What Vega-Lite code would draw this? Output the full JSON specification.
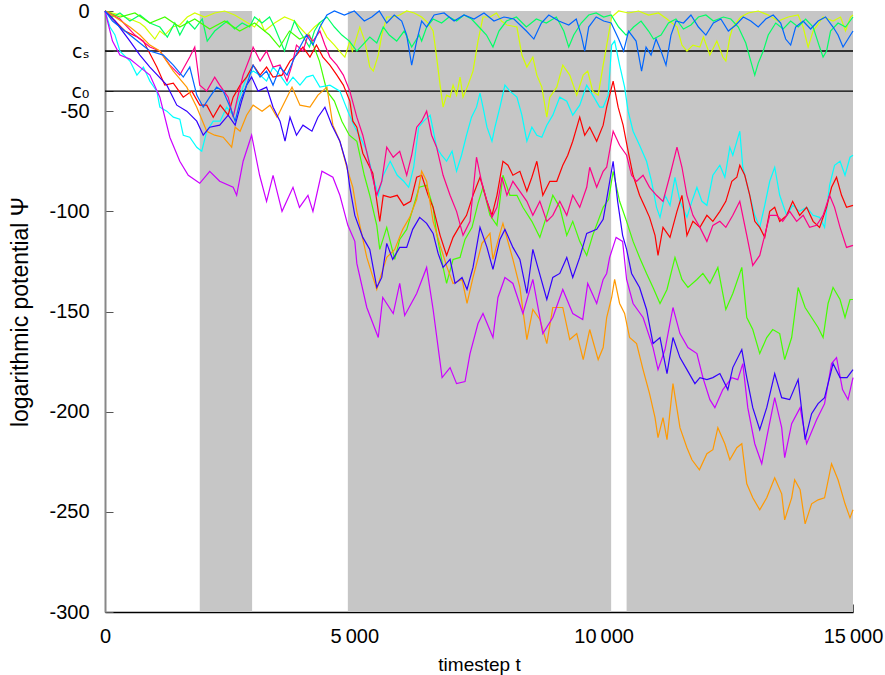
{
  "$schema": "https://vega.github.io/schema/vega-lite/v6.json",
  "width": 748,
  "height": 601,
  "autosize": {"type": "none"},
  "padding": {"left": 105, "top": 11, "right": 32, "bottom": 63},
  "background": "white",
  "view": {"stroke": null},
  "config": {
    "font": "Liberation Sans",
    "axis": {"labelFont": "Liberation Sans", "labelFontSize": 20, "labelColor": "#000", "titleFont": "Liberation Sans", "titleFontWeight": "normal", "titleColor": "#000", "grid": false, "labelOverlap": false}
  },
  "layer": [
    {
      "data": {"values": [
        {"from": 1900, "to": 2950},
        {"from": 4870, "to": 10150},
        {"from": 10460, "to": 15000}
      ]},
      "mark": {"type": "rect", "color": "#c6c6c6"},
      "encoding": {
        "x": {"field": "from", "type": "quantitative", "scale": {"domain": [0, 15000], "nice": false}},
        "x2": {"field": "to"},
        "y": {"datum": 0, "type": "quantitative", "scale": {"domain": [-300, 0], "nice": false}},
        "y2": {"datum": -300}
      }
    },
    {
      "data": {"values": [{"level": -20}, {"level": -40}]},
      "mark": {"type": "rule", "color": "#000", "strokeWidth": 1.4},
      "encoding": {
        "y": {"field": "level", "type": "quantitative"}
      }
    },
    {
      "data": {"values": [
        {"s":"yellow","t":0,"v":0},{"s":"yellow","t":300,"v":-2},{"s":"yellow","t":500,"v":-4},{"s":"yellow","t":700,"v":-6},{"s":"yellow","t":800,"v":-8},{"s":"yellow","t":900,"v":-11},{"s":"yellow","t":1000,"v":-14},{"s":"yellow","t":1100,"v":-10},{"s":"yellow","t":1200,"v":-12},{"s":"yellow","t":1350,"v":-8},{"s":"yellow","t":1500,"v":-7},{"s":"yellow","t":1650,"v":-3},{"s":"yellow","t":1800,"v":-1},{"s":"yellow","t":2000,"v":-3},{"s":"yellow","t":2200,"v":-1},{"s":"yellow","t":2400,"v":0},{"s":"yellow","t":2600,"v":-2},{"s":"yellow","t":2800,"v":-5},{"s":"yellow","t":3000,"v":-8},{"s":"yellow","t":3100,"v":-4},{"s":"yellow","t":3200,"v":-10},{"s":"yellow","t":3400,"v":-6},{"s":"yellow","t":3600,"v":-3},{"s":"yellow","t":3800,"v":-5},{"s":"yellow","t":3900,"v":-8},{"s":"yellow","t":4050,"v":-12},{"s":"yellow","t":4200,"v":-8},{"s":"yellow","t":4300,"v":-6},{"s":"yellow","t":4450,"v":-13},{"s":"yellow","t":4600,"v":-17},{"s":"yellow","t":4700,"v":-20},{"s":"yellow","t":4810,"v":-23},{"s":"yellow","t":4910,"v":-15},{"s":"yellow","t":4960,"v":-20},{"s":"yellow","t":5110,"v":-8},{"s":"yellow","t":5210,"v":-15},{"s":"yellow","t":5310,"v":-28},{"s":"yellow","t":5380,"v":-30},{"s":"yellow","t":5480,"v":-22},{"s":"yellow","t":5550,"v":-12},{"s":"yellow","t":5650,"v":-3},{"s":"yellow","t":5780,"v":-3},{"s":"yellow","t":5910,"v":-2},{"s":"yellow","t":6050,"v":0},{"s":"yellow","t":6200,"v":-1},{"s":"yellow","t":6350,"v":-3},{"s":"yellow","t":6480,"v":-6},{"s":"yellow","t":6580,"v":-10},{"s":"yellow","t":6650,"v":-23},{"s":"yellow","t":6720,"v":-37},{"s":"yellow","t":6780,"v":-48},{"s":"yellow","t":6850,"v":-42},{"s":"yellow","t":6920,"v":-43},{"s":"yellow","t":6980,"v":-37},{"s":"yellow","t":7050,"v":-42},{"s":"yellow","t":7120,"v":-33},{"s":"yellow","t":7180,"v":-43},{"s":"yellow","t":7280,"v":-37},{"s":"yellow","t":7380,"v":-30},{"s":"yellow","t":7480,"v":-15},{"s":"yellow","t":7580,"v":-3},{"s":"yellow","t":7720,"v":-3},{"s":"yellow","t":7850,"v":-1},{"s":"yellow","t":7950,"v":-5},{"s":"yellow","t":8060,"v":-7},{"s":"yellow","t":8260,"v":-8},{"s":"yellow","t":8360,"v":-22},{"s":"yellow","t":8460,"v":-28},{"s":"yellow","t":8580,"v":-23},{"s":"yellow","t":8660,"v":-32},{"s":"yellow","t":8760,"v":-38},{"s":"yellow","t":8860,"v":-53},{"s":"yellow","t":8920,"v":-43},{"s":"yellow","t":9060,"v":-38},{"s":"yellow","t":9180,"v":-27},{"s":"yellow","t":9320,"v":-32},{"s":"yellow","t":9460,"v":-42},{"s":"yellow","t":9590,"v":-32},{"s":"yellow","t":9680,"v":-30},{"s":"yellow","t":9780,"v":-40},{"s":"yellow","t":9890,"v":-42},{"s":"yellow","t":9990,"v":-27},{"s":"yellow","t":10090,"v":-13},{"s":"yellow","t":10160,"v":-3},{"s":"yellow","t":10300,"v":0},{"s":"yellow","t":10500,"v":-1},{"s":"yellow","t":10700,"v":0},{"s":"yellow","t":10900,"v":-2},{"s":"yellow","t":11100,"v":-1},{"s":"yellow","t":11270,"v":-4},{"s":"yellow","t":11470,"v":-8},{"s":"yellow","t":11570,"v":-17},{"s":"yellow","t":11670,"v":-20},{"s":"yellow","t":11790,"v":-17},{"s":"yellow","t":11930,"v":-18},{"s":"yellow","t":12000,"v":-13},{"s":"yellow","t":12130,"v":-22},{"s":"yellow","t":12270,"v":-15},{"s":"yellow","t":12390,"v":-23},{"s":"yellow","t":12450,"v":-25},{"s":"yellow","t":12530,"v":-13},{"s":"yellow","t":12590,"v":-8},{"s":"yellow","t":12750,"v":-3},{"s":"yellow","t":12900,"v":-1},{"s":"yellow","t":13100,"v":0},{"s":"yellow","t":13300,"v":-2},{"s":"yellow","t":13500,"v":-5},{"s":"yellow","t":13700,"v":-3},{"s":"yellow","t":13900,"v":-2},{"s":"yellow","t":14000,"v":-8},{"s":"yellow","t":14100,"v":-18},{"s":"yellow","t":14200,"v":-10},{"s":"yellow","t":14400,"v":-3},{"s":"yellow","t":14600,"v":-5},{"s":"yellow","t":14750,"v":-3},{"s":"yellow","t":14850,"v":-10},{"s":"yellow","t":14950,"v":-3},{"s":"yellow","t":15000,"v":-2},

        {"s":"spring","t":0,"v":0},{"s":"spring","t":150,"v":-3},{"s":"spring","t":300,"v":-1},{"s":"spring","t":500,"v":-5},{"s":"spring","t":700,"v":-2},{"s":"spring","t":900,"v":-6},{"s":"spring","t":1100,"v":-8},{"s":"spring","t":1250,"v":-13},{"s":"spring","t":1400,"v":-6},{"s":"spring","t":1500,"v":-12},{"s":"spring","t":1650,"v":-5},{"s":"spring","t":1800,"v":-9},{"s":"spring","t":1950,"v":-4},{"s":"spring","t":2050,"v":-15},{"s":"spring","t":2200,"v":-10},{"s":"spring","t":2350,"v":-7},{"s":"spring","t":2450,"v":-5},{"s":"spring","t":2600,"v":-9},{"s":"spring","t":2750,"v":-6},{"s":"spring","t":2900,"v":-8},{"s":"spring","t":3000,"v":-3},{"s":"spring","t":3150,"v":-6},{"s":"spring","t":3300,"v":-3},{"s":"spring","t":3400,"v":-8},{"s":"spring","t":3500,"v":-14},{"s":"spring","t":3600,"v":-20},{"s":"spring","t":3700,"v":-12},{"s":"spring","t":3800,"v":-5},{"s":"spring","t":3900,"v":-10},{"s":"spring","t":4000,"v":-14},{"s":"spring","t":4100,"v":-18},{"s":"spring","t":4200,"v":-10},{"s":"spring","t":4300,"v":-6},{"s":"spring","t":4450,"v":-3},{"s":"spring","t":4600,"v":-8},{"s":"spring","t":4750,"v":-12},{"s":"spring","t":4900,"v":-15},{"s":"spring","t":5050,"v":-20},{"s":"spring","t":5200,"v":-16},{"s":"spring","t":5310,"v":-13},{"s":"spring","t":5450,"v":-16},{"s":"spring","t":5580,"v":-8},{"s":"spring","t":5700,"v":-12},{"s":"spring","t":5850,"v":-15},{"s":"spring","t":6000,"v":-10},{"s":"spring","t":6150,"v":-18},{"s":"spring","t":6300,"v":-12},{"s":"spring","t":6350,"v":-15},{"s":"spring","t":6450,"v":-8},{"s":"spring","t":6580,"v":-4},{"s":"spring","t":6750,"v":-6},{"s":"spring","t":6900,"v":-3},{"s":"spring","t":7050,"v":-5},{"s":"spring","t":7200,"v":-2},{"s":"spring","t":7350,"v":-4},{"s":"spring","t":7500,"v":-8},{"s":"spring","t":7650,"v":-12},{"s":"spring","t":7780,"v":-18},{"s":"spring","t":7900,"v":-10},{"s":"spring","t":8050,"v":-5},{"s":"spring","t":8250,"v":-3},{"s":"spring","t":8450,"v":-8},{"s":"spring","t":8650,"v":-4},{"s":"spring","t":8850,"v":-6},{"s":"spring","t":9050,"v":-3},{"s":"spring","t":9200,"v":-10},{"s":"spring","t":9300,"v":-18},{"s":"spring","t":9400,"v":-12},{"s":"spring","t":9550,"v":-6},{"s":"spring","t":9700,"v":-2},{"s":"spring","t":9850,"v":-1},{"s":"spring","t":10000,"v":-3},{"s":"spring","t":10150,"v":-2},{"s":"spring","t":10300,"v":-8},{"s":"spring","t":10450,"v":-12},{"s":"spring","t":10600,"v":-8},{"s":"spring","t":10750,"v":-5},{"s":"spring","t":10900,"v":-10},{"s":"spring","t":11000,"v":-14},{"s":"spring","t":11150,"v":-12},{"s":"spring","t":11300,"v":-6},{"s":"spring","t":11450,"v":-4},{"s":"spring","t":11600,"v":-9},{"s":"spring","t":11750,"v":-7},{"s":"spring","t":11900,"v":-3},{"s":"spring","t":12050,"v":-2},{"s":"spring","t":12200,"v":-5},{"s":"spring","t":12400,"v":-3},{"s":"spring","t":12550,"v":-4},{"s":"spring","t":12700,"v":-8},{"s":"spring","t":12850,"v":-16},{"s":"spring","t":12950,"v":-25},{"s":"spring","t":13030,"v":-32},{"s":"spring","t":13100,"v":-26},{"s":"spring","t":13200,"v":-20},{"s":"spring","t":13300,"v":-12},{"s":"spring","t":13450,"v":-6},{"s":"spring","t":13600,"v":-9},{"s":"spring","t":13750,"v":-5},{"s":"spring","t":13900,"v":-8},{"s":"spring","t":14050,"v":-4},{"s":"spring","t":14200,"v":-8},{"s":"spring","t":14330,"v":-18},{"s":"spring","t":14400,"v":-23},{"s":"spring","t":14470,"v":-20},{"s":"spring","t":14550,"v":-10},{"s":"spring","t":14700,"v":-6},{"s":"spring","t":14850,"v":-8},{"s":"spring","t":15000,"v":-3},

        {"s":"lime","t":0,"v":0},{"s":"lime","t":300,"v":-3},{"s":"lime","t":600,"v":-1},{"s":"lime","t":900,"v":-6},{"s":"lime","t":1200,"v":-3},{"s":"lime","t":1500,"v":-8},{"s":"lime","t":1800,"v":-4},{"s":"lime","t":2100,"v":-9},{"s":"lime","t":2400,"v":-5},{"s":"lime","t":2700,"v":-10},{"s":"lime","t":3000,"v":-6},{"s":"lime","t":3300,"v":-12},{"s":"lime","t":3500,"v":-18},{"s":"lime","t":3700,"v":-10},{"s":"lime","t":3900,"v":-14},{"s":"lime","t":4100,"v":-12},{"s":"lime","t":4300,"v":-25},{"s":"lime","t":4450,"v":-40},{"s":"lime","t":4600,"v":-45},{"s":"lime","t":4750,"v":-55},{"s":"lime","t":4900,"v":-62},{"s":"lime","t":5050,"v":-65},{"s":"lime","t":5200,"v":-82},{"s":"lime","t":5310,"v":-92},{"s":"lime","t":5450,"v":-107},{"s":"lime","t":5510,"v":-119},{"s":"lime","t":5650,"v":-108},{"s":"lime","t":5810,"v":-124},{"s":"lime","t":5910,"v":-114},{"s":"lime","t":6050,"v":-109},{"s":"lime","t":6170,"v":-99},{"s":"lime","t":6300,"v":-88},{"s":"lime","t":6450,"v":-87},{"s":"lime","t":6580,"v":-98},{"s":"lime","t":6650,"v":-111},{"s":"lime","t":6780,"v":-128},{"s":"lime","t":6850,"v":-136},{"s":"lime","t":6980,"v":-124},{"s":"lime","t":7120,"v":-123},{"s":"lime","t":7220,"v":-114},{"s":"lime","t":7360,"v":-108},{"s":"lime","t":7480,"v":-96},{"s":"lime","t":7580,"v":-88},{"s":"lime","t":7720,"v":-102},{"s":"lime","t":7860,"v":-107},{"s":"lime","t":7980,"v":-82},{"s":"lime","t":8120,"v":-92},{"s":"lime","t":8260,"v":-92},{"s":"lime","t":8380,"v":-98},{"s":"lime","t":8560,"v":-105},{"s":"lime","t":8720,"v":-113},{"s":"lime","t":8860,"v":-102},{"s":"lime","t":8980,"v":-92},{"s":"lime","t":9120,"v":-98},{"s":"lime","t":9260,"v":-112},{"s":"lime","t":9380,"v":-105},{"s":"lime","t":9520,"v":-115},{"s":"lime","t":9660,"v":-122},{"s":"lime","t":9780,"v":-112},{"s":"lime","t":9990,"v":-98},{"s":"lime","t":10100,"v":-94},{"s":"lime","t":10190,"v":-80},{"s":"lime","t":10320,"v":-95},{"s":"lime","t":10460,"v":-105},{"s":"lime","t":10590,"v":-115},{"s":"lime","t":10720,"v":-123},{"s":"lime","t":10860,"v":-131},{"s":"lime","t":10990,"v":-138},{"s":"lime","t":11130,"v":-146},{"s":"lime","t":11270,"v":-139},{"s":"lime","t":11430,"v":-123},{"s":"lime","t":11570,"v":-134},{"s":"lime","t":11690,"v":-138},{"s":"lime","t":11870,"v":-134},{"s":"lime","t":11990,"v":-131},{"s":"lime","t":12130,"v":-136},{"s":"lime","t":12290,"v":-128},{"s":"lime","t":12450,"v":-149},{"s":"lime","t":12590,"v":-141},{"s":"lime","t":12770,"v":-128},{"s":"lime","t":12870,"v":-153},{"s":"lime","t":12990,"v":-159},{"s":"lime","t":13130,"v":-171},{"s":"lime","t":13270,"v":-163},{"s":"lime","t":13390,"v":-159},{"s":"lime","t":13530,"v":-161},{"s":"lime","t":13630,"v":-174},{"s":"lime","t":13770,"v":-163},{"s":"lime","t":13900,"v":-138},{"s":"lime","t":14040,"v":-148},{"s":"lime","t":14170,"v":-153},{"s":"lime","t":14300,"v":-158},{"s":"lime","t":14400,"v":-163},{"s":"lime","t":14500,"v":-146},{"s":"lime","t":14600,"v":-138},{"s":"lime","t":14740,"v":-144},{"s":"lime","t":14840,"v":-153},{"s":"lime","t":14940,"v":-144},{"s":"lime","t":15000,"v":-144},

        {"s":"cyan","t":0,"v":0},{"s":"cyan","t":100,"v":-8},{"s":"cyan","t":200,"v":-12},{"s":"cyan","t":300,"v":-20},{"s":"cyan","t":500,"v":-25},{"s":"cyan","t":640,"v":-32},{"s":"cyan","t":770,"v":-28},{"s":"cyan","t":900,"v":-35},{"s":"cyan","t":1040,"v":-40},{"s":"cyan","t":1100,"v":-48},{"s":"cyan","t":1240,"v":-50},{"s":"cyan","t":1370,"v":-53},{"s":"cyan","t":1500,"v":-54},{"s":"cyan","t":1570,"v":-62},{"s":"cyan","t":1700,"v":-63},{"s":"cyan","t":1840,"v":-68},{"s":"cyan","t":1940,"v":-70},{"s":"cyan","t":2040,"v":-60},{"s":"cyan","t":2170,"v":-55},{"s":"cyan","t":2310,"v":-55},{"s":"cyan","t":2440,"v":-48},{"s":"cyan","t":2570,"v":-52},{"s":"cyan","t":2710,"v":-42},{"s":"cyan","t":2840,"v":-33},{"s":"cyan","t":2970,"v":-30},{"s":"cyan","t":3110,"v":-32},{"s":"cyan","t":3240,"v":-35},{"s":"cyan","t":3370,"v":-28},{"s":"cyan","t":3510,"v":-32},{"s":"cyan","t":3650,"v":-37},{"s":"cyan","t":3770,"v":-33},{"s":"cyan","t":3910,"v":-37},{"s":"cyan","t":4040,"v":-33},{"s":"cyan","t":4170,"v":-32},{"s":"cyan","t":4310,"v":-38},{"s":"cyan","t":4510,"v":-37},{"s":"cyan","t":4710,"v":-40},{"s":"cyan","t":4870,"v":-50},{"s":"cyan","t":5010,"v":-58},{"s":"cyan","t":5120,"v":-63},{"s":"cyan","t":5250,"v":-70},{"s":"cyan","t":5370,"v":-82},{"s":"cyan","t":5480,"v":-92},{"s":"cyan","t":5580,"v":-82},{"s":"cyan","t":5720,"v":-75},{"s":"cyan","t":5860,"v":-82},{"s":"cyan","t":5990,"v":-85},{"s":"cyan","t":6090,"v":-88},{"s":"cyan","t":6190,"v":-78},{"s":"cyan","t":6290,"v":-58},{"s":"cyan","t":6390,"v":-55},{"s":"cyan","t":6520,"v":-52},{"s":"cyan","t":6650,"v":-68},{"s":"cyan","t":6750,"v":-72},{"s":"cyan","t":6850,"v":-75},{"s":"cyan","t":6960,"v":-70},{"s":"cyan","t":7050,"v":-80},{"s":"cyan","t":7150,"v":-72},{"s":"cyan","t":7250,"v":-62},{"s":"cyan","t":7350,"v":-53},{"s":"cyan","t":7450,"v":-48},{"s":"cyan","t":7520,"v":-41},{"s":"cyan","t":7580,"v":-48},{"s":"cyan","t":7660,"v":-58},{"s":"cyan","t":7760,"v":-65},{"s":"cyan","t":7820,"v":-58},{"s":"cyan","t":7920,"v":-48},{"s":"cyan","t":8020,"v":-37},{"s":"cyan","t":8120,"v":-40},{"s":"cyan","t":8260,"v":-43},{"s":"cyan","t":8360,"v":-52},{"s":"cyan","t":8460,"v":-65},{"s":"cyan","t":8560,"v":-58},{"s":"cyan","t":8660,"v":-62},{"s":"cyan","t":8760,"v":-63},{"s":"cyan","t":8860,"v":-57},{"s":"cyan","t":8980,"v":-52},{"s":"cyan","t":9120,"v":-43},{"s":"cyan","t":9260,"v":-45},{"s":"cyan","t":9380,"v":-52},{"s":"cyan","t":9520,"v":-47},{"s":"cyan","t":9660,"v":-37},{"s":"cyan","t":9780,"v":-42},{"s":"cyan","t":9920,"v":-48},{"s":"cyan","t":9990,"v":-48},{"s":"cyan","t":10090,"v":-42},{"s":"cyan","t":10160,"v":-17},{"s":"cyan","t":10220,"v":-15},{"s":"cyan","t":10320,"v":-27},{"s":"cyan","t":10420,"v":-38},{"s":"cyan","t":10490,"v":-50},{"s":"cyan","t":10590,"v":-60},{"s":"cyan","t":10720,"v":-67},{"s":"cyan","t":10860,"v":-75},{"s":"cyan","t":10960,"v":-85},{"s":"cyan","t":11060,"v":-98},{"s":"cyan","t":11130,"v":-103},{"s":"cyan","t":11230,"v":-92},{"s":"cyan","t":11330,"v":-97},{"s":"cyan","t":11430,"v":-83},{"s":"cyan","t":11530,"v":-95},{"s":"cyan","t":11670,"v":-103},{"s":"cyan","t":11770,"v":-95},{"s":"cyan","t":11870,"v":-88},{"s":"cyan","t":11970,"v":-95},{"s":"cyan","t":12070,"v":-97},{"s":"cyan","t":12190,"v":-82},{"s":"cyan","t":12330,"v":-77},{"s":"cyan","t":12430,"v":-83},{"s":"cyan","t":12530,"v":-68},{"s":"cyan","t":12590,"v":-72},{"s":"cyan","t":12730,"v":-60},{"s":"cyan","t":12790,"v":-78},{"s":"cyan","t":12930,"v":-92},{"s":"cyan","t":13030,"v":-102},{"s":"cyan","t":13130,"v":-108},{"s":"cyan","t":13230,"v":-97},{"s":"cyan","t":13330,"v":-85},{"s":"cyan","t":13430,"v":-78},{"s":"cyan","t":13530,"v":-92},{"s":"cyan","t":13670,"v":-102},{"s":"cyan","t":13790,"v":-97},{"s":"cyan","t":13930,"v":-100},{"s":"cyan","t":14070,"v":-98},{"s":"cyan","t":14200,"v":-102},{"s":"cyan","t":14330,"v":-103},{"s":"cyan","t":14430,"v":-108},{"s":"cyan","t":14530,"v":-87},{"s":"cyan","t":14630,"v":-77},{"s":"cyan","t":14740,"v":-75},{"s":"cyan","t":14840,"v":-82},{"s":"cyan","t":14940,"v":-73},{"s":"cyan","t":15000,"v":-72},

        {"s":"red","t":0,"v":0},{"s":"red","t":200,"v":-5},{"s":"red","t":400,"v":-10},{"s":"red","t":650,"v":-13},{"s":"red","t":770,"v":-15},{"s":"red","t":1040,"v":-28},{"s":"red","t":1200,"v":-37},{"s":"red","t":1370,"v":-36},{"s":"red","t":1570,"v":-43},{"s":"red","t":1740,"v":-40},{"s":"red","t":1900,"v":-47},{"s":"red","t":2040,"v":-47},{"s":"red","t":2170,"v":-53},{"s":"red","t":2310,"v":-47},{"s":"red","t":2470,"v":-52},{"s":"red","t":2570,"v":-43},{"s":"red","t":2710,"v":-37},{"s":"red","t":2840,"v":-33},{"s":"red","t":2970,"v":-27},{"s":"red","t":3110,"v":-32},{"s":"red","t":3240,"v":-28},{"s":"red","t":3370,"v":-33},{"s":"red","t":3550,"v":-32},{"s":"red","t":3710,"v":-25},{"s":"red","t":3840,"v":-22},{"s":"red","t":3970,"v":-18},{"s":"red","t":4110,"v":-23},{"s":"red","t":4240,"v":-17},{"s":"red","t":4370,"v":-23},{"s":"red","t":4510,"v":-27},{"s":"red","t":4650,"v":-32},{"s":"red","t":4780,"v":-37},{"s":"red","t":4910,"v":-45},{"s":"red","t":4970,"v":-55},{"s":"red","t":5050,"v":-58},{"s":"red","t":5170,"v":-71},{"s":"red","t":5370,"v":-81},{"s":"red","t":5510,"v":-105},{"s":"red","t":5580,"v":-92},{"s":"red","t":5720,"v":-93},{"s":"red","t":5860,"v":-92},{"s":"red","t":5990,"v":-97},{"s":"red","t":6130,"v":-95},{"s":"red","t":6250,"v":-83},{"s":"red","t":6350,"v":-82},{"s":"red","t":6480,"v":-92},{"s":"red","t":6580,"v":-98},{"s":"red","t":6720,"v":-112},{"s":"red","t":6850,"v":-122},{"s":"red","t":6980,"v":-113},{"s":"red","t":7120,"v":-107},{"s":"red","t":7250,"v":-102},{"s":"red","t":7380,"v":-92},{"s":"red","t":7520,"v":-83},{"s":"red","t":7660,"v":-95},{"s":"red","t":7760,"v":-102},{"s":"red","t":7860,"v":-92},{"s":"red","t":7980,"v":-75},{"s":"red","t":8080,"v":-77},{"s":"red","t":8180,"v":-82},{"s":"red","t":8320,"v":-80},{"s":"red","t":8460,"v":-90},{"s":"red","t":8560,"v":-83},{"s":"red","t":8660,"v":-75},{"s":"red","t":8780,"v":-92},{"s":"red","t":8920,"v":-85},{"s":"red","t":9060,"v":-85},{"s":"red","t":9180,"v":-77},{"s":"red","t":9280,"v":-72},{"s":"red","t":9380,"v":-65},{"s":"red","t":9520,"v":-53},{"s":"red","t":9620,"v":-62},{"s":"red","t":9720,"v":-58},{"s":"red","t":9860,"v":-65},{"s":"red","t":9990,"v":-57},{"s":"red","t":10060,"v":-48},{"s":"red","t":10190,"v":-35},{"s":"red","t":10290,"v":-48},{"s":"red","t":10390,"v":-57},{"s":"red","t":10490,"v":-70},{"s":"red","t":10590,"v":-82},{"s":"red","t":10720,"v":-92},{"s":"red","t":10830,"v":-98},{"s":"red","t":10920,"v":-103},{"s":"red","t":11030,"v":-112},{"s":"red","t":11090,"v":-122},{"s":"red","t":11190,"v":-108},{"s":"red","t":11330,"v":-113},{"s":"red","t":11470,"v":-100},{"s":"red","t":11570,"v":-92},{"s":"red","t":11670,"v":-112},{"s":"red","t":11790,"v":-105},{"s":"red","t":11930,"v":-108},{"s":"red","t":12070,"v":-102},{"s":"red","t":12190,"v":-105},{"s":"red","t":12330,"v":-100},{"s":"red","t":12450,"v":-95},{"s":"red","t":12570,"v":-85},{"s":"red","t":12670,"v":-83},{"s":"red","t":12730,"v":-77},{"s":"red","t":12830,"v":-82},{"s":"red","t":12930,"v":-92},{"s":"red","t":13030,"v":-105},{"s":"red","t":13130,"v":-108},{"s":"red","t":13230,"v":-113},{"s":"red","t":13330,"v":-100},{"s":"red","t":13430,"v":-98},{"s":"red","t":13530,"v":-105},{"s":"red","t":13670,"v":-102},{"s":"red","t":13790,"v":-95},{"s":"red","t":13930,"v":-102},{"s":"red","t":14070,"v":-98},{"s":"red","t":14200,"v":-105},{"s":"red","t":14330,"v":-108},{"s":"red","t":14470,"v":-98},{"s":"red","t":14570,"v":-88},{"s":"red","t":14670,"v":-83},{"s":"red","t":14770,"v":-92},{"s":"red","t":14870,"v":-98},{"s":"red","t":15000,"v":-97},

        {"s":"pink","t":0,"v":0},{"s":"pink","t":300,"v":-4},{"s":"pink","t":600,"v":-12},{"s":"pink","t":900,"v":-18},{"s":"pink","t":1100,"v":-20},{"s":"pink","t":1300,"v":-27},{"s":"pink","t":1500,"v":-32},{"s":"pink","t":1700,"v":-23},{"s":"pink","t":1800,"v":-18},{"s":"pink","t":1900,"v":-37},{"s":"pink","t":2040,"v":-40},{"s":"pink","t":2200,"v":-33},{"s":"pink","t":2300,"v":-37},{"s":"pink","t":2470,"v":-43},{"s":"pink","t":2570,"v":-53},{"s":"pink","t":2670,"v":-42},{"s":"pink","t":2770,"v":-32},{"s":"pink","t":2910,"v":-23},{"s":"pink","t":2970,"v":-18},{"s":"pink","t":3110,"v":-25},{"s":"pink","t":3240,"v":-20},{"s":"pink","t":3370,"v":-28},{"s":"pink","t":3510,"v":-27},{"s":"pink","t":3650,"v":-35},{"s":"pink","t":3750,"v":-27},{"s":"pink","t":3840,"v":-17},{"s":"pink","t":3970,"v":-20},{"s":"pink","t":4070,"v":-12},{"s":"pink","t":4170,"v":-15},{"s":"pink","t":4310,"v":-10},{"s":"pink","t":4410,"v":-17},{"s":"pink","t":4510,"v":-23},{"s":"pink","t":4650,"v":-27},{"s":"pink","t":4780,"v":-32},{"s":"pink","t":4910,"v":-40},{"s":"pink","t":5050,"v":-53},{"s":"pink","t":5170,"v":-62},{"s":"pink","t":5310,"v":-77},{"s":"pink","t":5450,"v":-92},{"s":"pink","t":5550,"v":-85},{"s":"pink","t":5650,"v":-68},{"s":"pink","t":5780,"v":-73},{"s":"pink","t":5910,"v":-70},{"s":"pink","t":6050,"v":-82},{"s":"pink","t":6150,"v":-72},{"s":"pink","t":6250,"v":-58},{"s":"pink","t":6350,"v":-55},{"s":"pink","t":6450,"v":-50},{"s":"pink","t":6550,"v":-62},{"s":"pink","t":6650,"v":-68},{"s":"pink","t":6780,"v":-82},{"s":"pink","t":6920,"v":-92},{"s":"pink","t":7050,"v":-100},{"s":"pink","t":7180,"v":-112},{"s":"pink","t":7320,"v":-105},{"s":"pink","t":7450,"v":-73},{"s":"pink","t":7550,"v":-85},{"s":"pink","t":7660,"v":-95},{"s":"pink","t":7760,"v":-103},{"s":"pink","t":7860,"v":-98},{"s":"pink","t":7960,"v":-83},{"s":"pink","t":8060,"v":-92},{"s":"pink","t":8180,"v":-85},{"s":"pink","t":8320,"v":-90},{"s":"pink","t":8460,"v":-95},{"s":"pink","t":8580,"v":-102},{"s":"pink","t":8720,"v":-95},{"s":"pink","t":8860,"v":-105},{"s":"pink","t":8980,"v":-102},{"s":"pink","t":9120,"v":-95},{"s":"pink","t":9260,"v":-102},{"s":"pink","t":9380,"v":-92},{"s":"pink","t":9520,"v":-98},{"s":"pink","t":9660,"v":-88},{"s":"pink","t":9720,"v":-78},{"s":"pink","t":9860,"v":-88},{"s":"pink","t":9990,"v":-80},{"s":"pink","t":10060,"v":-78},{"s":"pink","t":10190,"v":-60},{"s":"pink","t":10320,"v":-67},{"s":"pink","t":10460,"v":-72},{"s":"pink","t":10560,"v":-82},{"s":"pink","t":10660,"v":-85},{"s":"pink","t":10790,"v":-82},{"s":"pink","t":10920,"v":-88},{"s":"pink","t":11060,"v":-92},{"s":"pink","t":11190,"v":-95},{"s":"pink","t":11330,"v":-82},{"s":"pink","t":11470,"v":-68},{"s":"pink","t":11570,"v":-78},{"s":"pink","t":11670,"v":-92},{"s":"pink","t":11790,"v":-102},{"s":"pink","t":11930,"v":-108},{"s":"pink","t":12070,"v":-115},{"s":"pink","t":12190,"v":-107},{"s":"pink","t":12330,"v":-105},{"s":"pink","t":12450,"v":-108},{"s":"pink","t":12590,"v":-102},{"s":"pink","t":12730,"v":-95},{"s":"pink","t":12870,"v":-112},{"s":"pink","t":12990,"v":-127},{"s":"pink","t":13130,"v":-122},{"s":"pink","t":13230,"v":-112},{"s":"pink","t":13330,"v":-102},{"s":"pink","t":13470,"v":-102},{"s":"pink","t":13590,"v":-105},{"s":"pink","t":13730,"v":-100},{"s":"pink","t":13870,"v":-105},{"s":"pink","t":14000,"v":-102},{"s":"pink","t":14130,"v":-108},{"s":"pink","t":14270,"v":-107},{"s":"pink","t":14400,"v":-102},{"s":"pink","t":14530,"v":-92},{"s":"pink","t":14630,"v":-98},{"s":"pink","t":14740,"v":-108},{"s":"pink","t":14870,"v":-118},{"s":"pink","t":15000,"v":-117},

        {"s":"orange","t":0,"v":0},{"s":"orange","t":200,"v":-3},{"s":"orange","t":500,"v":-8},{"s":"orange","t":700,"v":-12},{"s":"orange","t":900,"v":-17},{"s":"orange","t":1100,"v":-20},{"s":"orange","t":1370,"v":-30},{"s":"orange","t":1640,"v":-38},{"s":"orange","t":1840,"v":-48},{"s":"orange","t":2040,"v":-60},{"s":"orange","t":2200,"v":-62},{"s":"orange","t":2370,"v":-63},{"s":"orange","t":2540,"v":-68},{"s":"orange","t":2610,"v":-58},{"s":"orange","t":2710,"v":-60},{"s":"orange","t":2840,"v":-52},{"s":"orange","t":2970,"v":-47},{"s":"orange","t":3150,"v":-50},{"s":"orange","t":3310,"v":-47},{"s":"orange","t":3450,"v":-53},{"s":"orange","t":3650,"v":-43},{"s":"orange","t":3750,"v":-38},{"s":"orange","t":3910,"v":-47},{"s":"orange","t":4110,"v":-48},{"s":"orange","t":4270,"v":-42},{"s":"orange","t":4450,"v":-38},{"s":"orange","t":4570,"v":-57},{"s":"orange","t":4710,"v":-65},{"s":"orange","t":4870,"v":-80},{"s":"orange","t":4970,"v":-88},{"s":"orange","t":5050,"v":-100},{"s":"orange","t":5250,"v":-123},{"s":"orange","t":5450,"v":-139},{"s":"orange","t":5510,"v":-134},{"s":"orange","t":5650,"v":-123},{"s":"orange","t":5810,"v":-119},{"s":"orange","t":5970,"v":-109},{"s":"orange","t":6110,"v":-103},{"s":"orange","t":6250,"v":-94},{"s":"orange","t":6350,"v":-80},{"s":"orange","t":6450,"v":-85},{"s":"orange","t":6580,"v":-105},{"s":"orange","t":6720,"v":-117},{"s":"orange","t":6860,"v":-128},{"s":"orange","t":6980,"v":-136},{"s":"orange","t":7160,"v":-134},{"s":"orange","t":7260,"v":-146},{"s":"orange","t":7380,"v":-133},{"s":"orange","t":7560,"v":-116},{"s":"orange","t":7720,"v":-111},{"s":"orange","t":7780,"v":-124},{"s":"orange","t":7920,"v":-111},{"s":"orange","t":7980,"v":-106},{"s":"orange","t":8180,"v":-124},{"s":"orange","t":8320,"v":-138},{"s":"orange","t":8460,"v":-164},{"s":"orange","t":8580,"v":-149},{"s":"orange","t":8720,"v":-154},{"s":"orange","t":8860,"v":-166},{"s":"orange","t":8980,"v":-148},{"s":"orange","t":9180,"v":-148},{"s":"orange","t":9320,"v":-164},{"s":"orange","t":9460,"v":-161},{"s":"orange","t":9590,"v":-174},{"s":"orange","t":9720,"v":-159},{"s":"orange","t":9890,"v":-174},{"s":"orange","t":9990,"v":-168},{"s":"orange","t":10060,"v":-153},{"s":"orange","t":10160,"v":-143},{"s":"orange","t":10220,"v":-134},{"s":"orange","t":10320,"v":-146},{"s":"orange","t":10420,"v":-151},{"s":"orange","t":10520,"v":-163},{"s":"orange","t":10660,"v":-166},{"s":"orange","t":10790,"v":-179},{"s":"orange","t":10920,"v":-191},{"s":"orange","t":11030,"v":-203},{"s":"orange","t":11090,"v":-213},{"s":"orange","t":11190,"v":-203},{"s":"orange","t":11270,"v":-214},{"s":"orange","t":11390,"v":-186},{"s":"orange","t":11530,"v":-208},{"s":"orange","t":11670,"v":-218},{"s":"orange","t":11770,"v":-224},{"s":"orange","t":11920,"v":-229},{"s":"orange","t":12070,"v":-221},{"s":"orange","t":12190,"v":-219},{"s":"orange","t":12290,"v":-208},{"s":"orange","t":12430,"v":-216},{"s":"orange","t":12530,"v":-224},{"s":"orange","t":12670,"v":-218},{"s":"orange","t":12770,"v":-216},{"s":"orange","t":12870,"v":-236},{"s":"orange","t":12990,"v":-243},{"s":"orange","t":13130,"v":-249},{"s":"orange","t":13270,"v":-243},{"s":"orange","t":13430,"v":-233},{"s":"orange","t":13570,"v":-241},{"s":"orange","t":13630,"v":-254},{"s":"orange","t":13770,"v":-243},{"s":"orange","t":13830,"v":-234},{"s":"orange","t":13940,"v":-239},{"s":"orange","t":14040,"v":-256},{"s":"orange","t":14170,"v":-246},{"s":"orange","t":14300,"v":-244},{"s":"orange","t":14430,"v":-243},{"s":"orange","t":14570,"v":-226},{"s":"orange","t":14700,"v":-234},{"s":"orange","t":14840,"v":-246},{"s":"orange","t":14940,"v":-253},{"s":"orange","t":15000,"v":-249},

        {"s":"violet","t":0,"v":0},{"s":"violet","t":150,"v":-15},{"s":"violet","t":300,"v":-22},{"s":"violet","t":500,"v":-24},{"s":"violet","t":700,"v":-28},{"s":"violet","t":900,"v":-32},{"s":"violet","t":1100,"v":-43},{"s":"violet","t":1300,"v":-63},{"s":"violet","t":1500,"v":-75},{"s":"violet","t":1670,"v":-82},{"s":"violet","t":1900,"v":-86},{"s":"violet","t":2100,"v":-80},{"s":"violet","t":2300,"v":-85},{"s":"violet","t":2570,"v":-88},{"s":"violet","t":2640,"v":-92},{"s":"violet","t":2770,"v":-75},{"s":"violet","t":2940,"v":-62},{"s":"violet","t":3100,"v":-82},{"s":"violet","t":3240,"v":-95},{"s":"violet","t":3370,"v":-82},{"s":"violet","t":3550,"v":-100},{"s":"violet","t":3770,"v":-88},{"s":"violet","t":3900,"v":-98},{"s":"violet","t":4070,"v":-92},{"s":"violet","t":4170,"v":-100},{"s":"violet","t":4350,"v":-80},{"s":"violet","t":4570,"v":-83},{"s":"violet","t":4710,"v":-92},{"s":"violet","t":4870,"v":-107},{"s":"violet","t":5010,"v":-115},{"s":"violet","t":5050,"v":-126},{"s":"violet","t":5250,"v":-148},{"s":"violet","t":5480,"v":-163},{"s":"violet","t":5570,"v":-143},{"s":"violet","t":5780,"v":-151},{"s":"violet","t":5910,"v":-136},{"s":"violet","t":6010,"v":-152},{"s":"violet","t":6250,"v":-141},{"s":"violet","t":6450,"v":-128},{"s":"violet","t":6580,"v":-149},{"s":"violet","t":6760,"v":-183},{"s":"violet","t":6920,"v":-178},{"s":"violet","t":7050,"v":-186},{"s":"violet","t":7220,"v":-185},{"s":"violet","t":7320,"v":-171},{"s":"violet","t":7480,"v":-156},{"s":"violet","t":7580,"v":-151},{"s":"violet","t":7780,"v":-163},{"s":"violet","t":7880,"v":-143},{"s":"violet","t":8020,"v":-133},{"s":"violet","t":8180,"v":-136},{"s":"violet","t":8380,"v":-151},{"s":"violet","t":8580,"v":-134},{"s":"violet","t":8780,"v":-161},{"s":"violet","t":8980,"v":-153},{"s":"violet","t":9180,"v":-139},{"s":"violet","t":9380,"v":-151},{"s":"violet","t":9580,"v":-154},{"s":"violet","t":9680,"v":-136},{"s":"violet","t":9860,"v":-146},{"s":"violet","t":9990,"v":-134},{"s":"violet","t":10060,"v":-131},{"s":"violet","t":10120,"v":-123},{"s":"violet","t":10250,"v":-113},{"s":"violet","t":10380,"v":-115},{"s":"violet","t":10460,"v":-134},{"s":"violet","t":10590,"v":-146},{"s":"violet","t":10790,"v":-153},{"s":"violet","t":10990,"v":-168},{"s":"violet","t":11090,"v":-179},{"s":"violet","t":11230,"v":-169},{"s":"violet","t":11390,"v":-148},{"s":"violet","t":11530,"v":-161},{"s":"violet","t":11690,"v":-168},{"s":"violet","t":11870,"v":-171},{"s":"violet","t":11990,"v":-183},{"s":"violet","t":12130,"v":-194},{"s":"violet","t":12230,"v":-198},{"s":"violet","t":12390,"v":-189},{"s":"violet","t":12570,"v":-183},{"s":"violet","t":12690,"v":-184},{"s":"violet","t":12790,"v":-176},{"s":"violet","t":12890,"v":-198},{"s":"violet","t":13030,"v":-216},{"s":"violet","t":13170,"v":-226},{"s":"violet","t":13270,"v":-213},{"s":"violet","t":13430,"v":-193},{"s":"violet","t":13570,"v":-208},{"s":"violet","t":13630,"v":-223},{"s":"violet","t":13770,"v":-206},{"s":"violet","t":13940,"v":-198},{"s":"violet","t":14070,"v":-216},{"s":"violet","t":14270,"v":-204},{"s":"violet","t":14430,"v":-196},{"s":"violet","t":14570,"v":-176},{"s":"violet","t":14670,"v":-173},{"s":"violet","t":14790,"v":-189},{"s":"violet","t":14900,"v":-194},{"s":"violet","t":15000,"v":-183},

        {"s":"indigo","t":0,"v":0},{"s":"indigo","t":200,"v":-5},{"s":"indigo","t":500,"v":-15},{"s":"indigo","t":700,"v":-22},{"s":"indigo","t":900,"v":-28},{"s":"indigo","t":1240,"v":-37},{"s":"indigo","t":1440,"v":-47},{"s":"indigo","t":1640,"v":-50},{"s":"indigo","t":1840,"v":-55},{"s":"indigo","t":1970,"v":-62},{"s":"indigo","t":2100,"v":-58},{"s":"indigo","t":2300,"v":-57},{"s":"indigo","t":2470,"v":-52},{"s":"indigo","t":2610,"v":-57},{"s":"indigo","t":2740,"v":-45},{"s":"indigo","t":2840,"v":-37},{"s":"indigo","t":2940,"v":-33},{"s":"indigo","t":3070,"v":-40},{"s":"indigo","t":3240,"v":-38},{"s":"indigo","t":3370,"v":-48},{"s":"indigo","t":3510,"v":-55},{"s":"indigo","t":3610,"v":-65},{"s":"indigo","t":3710,"v":-53},{"s":"indigo","t":3840,"v":-62},{"s":"indigo","t":3970,"v":-57},{"s":"indigo","t":4150,"v":-60},{"s":"indigo","t":4270,"v":-53},{"s":"indigo","t":4410,"v":-48},{"s":"indigo","t":4550,"v":-57},{"s":"indigo","t":4710,"v":-65},{"s":"indigo","t":4850,"v":-77},{"s":"indigo","t":4910,"v":-88},{"s":"indigo","t":5010,"v":-102},{"s":"indigo","t":5170,"v":-113},{"s":"indigo","t":5310,"v":-119},{"s":"indigo","t":5450,"v":-138},{"s":"indigo","t":5550,"v":-133},{"s":"indigo","t":5650,"v":-116},{"s":"indigo","t":5770,"v":-124},{"s":"indigo","t":5910,"v":-118},{"s":"indigo","t":6050,"v":-118},{"s":"indigo","t":6170,"v":-109},{"s":"indigo","t":6310,"v":-103},{"s":"indigo","t":6450,"v":-106},{"s":"indigo","t":6580,"v":-111},{"s":"indigo","t":6680,"v":-121},{"s":"indigo","t":6780,"v":-128},{"s":"indigo","t":6920,"v":-124},{"s":"indigo","t":7020,"v":-136},{"s":"indigo","t":7160,"v":-133},{"s":"indigo","t":7260,"v":-139},{"s":"indigo","t":7380,"v":-128},{"s":"indigo","t":7520,"v":-108},{"s":"indigo","t":7660,"v":-118},{"s":"indigo","t":7780,"v":-129},{"s":"indigo","t":7920,"v":-114},{"s":"indigo","t":8020,"v":-109},{"s":"indigo","t":8180,"v":-118},{"s":"indigo","t":8320,"v":-124},{"s":"indigo","t":8460,"v":-141},{"s":"indigo","t":8580,"v":-119},{"s":"indigo","t":8680,"v":-128},{"s":"indigo","t":8860,"v":-144},{"s":"indigo","t":8980,"v":-133},{"s":"indigo","t":9120,"v":-131},{"s":"indigo","t":9260,"v":-123},{"s":"indigo","t":9380,"v":-133},{"s":"indigo","t":9520,"v":-123},{"s":"indigo","t":9660,"v":-111},{"s":"indigo","t":9860,"v":-109},{"s":"indigo","t":9990,"v":-104},{"s":"indigo","t":10060,"v":-94},{"s":"indigo","t":10190,"v":-75},{"s":"indigo","t":10280,"v":-95},{"s":"indigo","t":10380,"v":-112},{"s":"indigo","t":10460,"v":-119},{"s":"indigo","t":10560,"v":-131},{"s":"indigo","t":10720,"v":-138},{"s":"indigo","t":10860,"v":-149},{"s":"indigo","t":10990,"v":-166},{"s":"indigo","t":11130,"v":-163},{"s":"indigo","t":11270,"v":-181},{"s":"indigo","t":11390,"v":-163},{"s":"indigo","t":11530,"v":-173},{"s":"indigo","t":11670,"v":-179},{"s":"indigo","t":11830,"v":-186},{"s":"indigo","t":11930,"v":-183},{"s":"indigo","t":12070,"v":-184},{"s":"indigo","t":12190,"v":-183},{"s":"indigo","t":12330,"v":-181},{"s":"indigo","t":12490,"v":-189},{"s":"indigo","t":12590,"v":-178},{"s":"indigo","t":12770,"v":-169},{"s":"indigo","t":12870,"v":-183},{"s":"indigo","t":12990,"v":-198},{"s":"indigo","t":13130,"v":-209},{"s":"indigo","t":13270,"v":-198},{"s":"indigo","t":13430,"v":-181},{"s":"indigo","t":13570,"v":-193},{"s":"indigo","t":13730,"v":-194},{"s":"indigo","t":13900,"v":-184},{"s":"indigo","t":14040,"v":-214},{"s":"indigo","t":14170,"v":-201},{"s":"indigo","t":14300,"v":-196},{"s":"indigo","t":14430,"v":-193},{"s":"indigo","t":14600,"v":-176},{"s":"indigo","t":14740,"v":-183},{"s":"indigo","t":14880,"v":-183},{"s":"indigo","t":15000,"v":-179},

        {"s":"azure","t":0,"v":0},{"s":"azure","t":150,"v":-5},{"s":"azure","t":300,"v":-8},{"s":"azure","t":500,"v":-12},{"s":"azure","t":700,"v":-16},{"s":"azure","t":900,"v":-20},{"s":"azure","t":1170,"v":-22},{"s":"azure","t":1370,"v":-27},{"s":"azure","t":1570,"v":-33},{"s":"azure","t":1700,"v":-28},{"s":"azure","t":1840,"v":-42},{"s":"azure","t":1970,"v":-48},{"s":"azure","t":2100,"v":-43},{"s":"azure","t":2240,"v":-38},{"s":"azure","t":2370,"v":-40},{"s":"azure","t":2510,"v":-48},{"s":"azure","t":2610,"v":-55},{"s":"azure","t":2710,"v":-45},{"s":"azure","t":2840,"v":-37},{"s":"azure","t":2970,"v":-27},{"s":"azure","t":3110,"v":-33},{"s":"azure","t":3240,"v":-30},{"s":"azure","t":3370,"v":-37},{"s":"azure","t":3510,"v":-28},{"s":"azure","t":3650,"v":-32},{"s":"azure","t":3770,"v":-25},{"s":"azure","t":3910,"v":-18},{"s":"azure","t":4040,"v":-12},{"s":"azure","t":4170,"v":-17},{"s":"azure","t":4310,"v":-8},{"s":"azure","t":4450,"v":-2},{"s":"azure","t":4600,"v":0},{"s":"azure","t":4800,"v":-2},{"s":"azure","t":5000,"v":0},{"s":"azure","t":5200,"v":-5},{"s":"azure","t":5350,"v":-3},{"s":"azure","t":5500,"v":0},{"s":"azure","t":5650,"v":-6},{"s":"azure","t":5800,"v":-2},{"s":"azure","t":5950,"v":-5},{"s":"azure","t":6050,"v":-12},{"s":"azure","t":6150,"v":-27},{"s":"azure","t":6250,"v":-15},{"s":"azure","t":6350,"v":-5},{"s":"azure","t":6450,"v":-8},{"s":"azure","t":6600,"v":-2},{"s":"azure","t":6800,"v":-1},{"s":"azure","t":7000,"v":-5},{"s":"azure","t":7200,"v":-2},{"s":"azure","t":7400,"v":-4},{"s":"azure","t":7600,"v":-1},{"s":"azure","t":7800,"v":-5},{"s":"azure","t":8000,"v":-3},{"s":"azure","t":8200,"v":-4},{"s":"azure","t":8450,"v":-10},{"s":"azure","t":8600,"v":-14},{"s":"azure","t":8750,"v":-6},{"s":"azure","t":8900,"v":-2},{"s":"azure","t":9100,"v":-5},{"s":"azure","t":9300,"v":-7},{"s":"azure","t":9450,"v":-4},{"s":"azure","t":9550,"v":-12},{"s":"azure","t":9620,"v":-20},{"s":"azure","t":9700,"v":-8},{"s":"azure","t":9850,"v":-3},{"s":"azure","t":10000,"v":-5},{"s":"azure","t":10150,"v":-6},{"s":"azure","t":10300,"v":-14},{"s":"azure","t":10400,"v":-20},{"s":"azure","t":10500,"v":-10},{"s":"azure","t":10650,"v":-15},{"s":"azure","t":10760,"v":-30},{"s":"azure","t":10850,"v":-18},{"s":"azure","t":10950,"v":-22},{"s":"azure","t":11050,"v":-14},{"s":"azure","t":11150,"v":-20},{"s":"azure","t":11250,"v":-27},{"s":"azure","t":11350,"v":-12},{"s":"azure","t":11450,"v":-5},{"s":"azure","t":11600,"v":-6},{"s":"azure","t":11750,"v":-2},{"s":"azure","t":11900,"v":-8},{"s":"azure","t":12050,"v":-12},{"s":"azure","t":12200,"v":-6},{"s":"azure","t":12350,"v":-4},{"s":"azure","t":12500,"v":-10},{"s":"azure","t":12650,"v":-7},{"s":"azure","t":12800,"v":-3},{"s":"azure","t":12950,"v":-5},{"s":"azure","t":13100,"v":-8},{"s":"azure","t":13250,"v":-4},{"s":"azure","t":13400,"v":-2},{"s":"azure","t":13550,"v":-6},{"s":"azure","t":13650,"v":-14},{"s":"azure","t":13750,"v":-17},{"s":"azure","t":13850,"v":-8},{"s":"azure","t":14000,"v":-5},{"s":"azure","t":14150,"v":-9},{"s":"azure","t":14300,"v":-5},{"s":"azure","t":14450,"v":-3},{"s":"azure","t":14600,"v":-8},{"s":"azure","t":14700,"v":-12},{"s":"azure","t":14800,"v":-18},{"s":"azure","t":14900,"v":-14},{"s":"azure","t":15000,"v":-10}
      ]},
      "mark": {"type": "line", "strokeWidth": 1.2, "clip": false},
      "encoding": {
        "x": {
          "field": "t", "type": "quantitative",
          "scale": {"domain": [0, 15000], "nice": false},
          "axis": {
            "title": "timestep t", "titleFontSize": 19, "titlePadding": 9,
            "values": [0, 5000, 10000, 15000],
            "labelExpr": "replace(format(datum.value, ','), ',', '\u2009')",
            "labelFlush": false, "labelPadding": 22,
            "tickSize": -8, "tickColor": "#555", "tickWidth": 1,
            "domainColor": "#000", "domainWidth": 1.5
          }
        },
        "y": {
          "field": "v", "type": "quantitative",
          "scale": {"domain": [-300, 0], "nice": false},
          "axis": {
            "title": "logarithmic potential Ψ", "titleFontSize": 23, "titlePadding": 16,
            "values": [0, -20, -40, -50, -100, -150, -200, -250, -300],
            "labelExpr": "datum.value == -20 ? 'cₛ' : datum.value == -40 ? 'c₀' : '' + datum.value",
            "labelFont": {"condition": {"test": "datum.value == -20 || datum.value == -40", "value": "DejaVu Sans"}, "value": "Liberation Sans"},
            "labelFontSize": {"condition": {"test": "datum.value == -20 || datum.value == -40", "value": 19}, "value": 20},
            "labelPadding": 24,
            "tickSize": -8, "tickColor": "#555", "tickWidth": 1,
            "domainColor": "#888", "domainWidth": 2
          }
        },
        "color": {
          "field": "s", "type": "nominal", "legend": null,
          "scale": {
            "domain": ["yellow", "spring", "lime", "cyan", "red", "pink", "orange", "violet", "indigo", "azure"],
            "range": ["#d4ff00", "#00ff66", "#44ff00", "#00ffff", "#ff0000", "#ff0088", "#ff9900", "#cc00ff", "#3300ff", "#0066ff"]
          }
        }
      }
    }
  ]
}
